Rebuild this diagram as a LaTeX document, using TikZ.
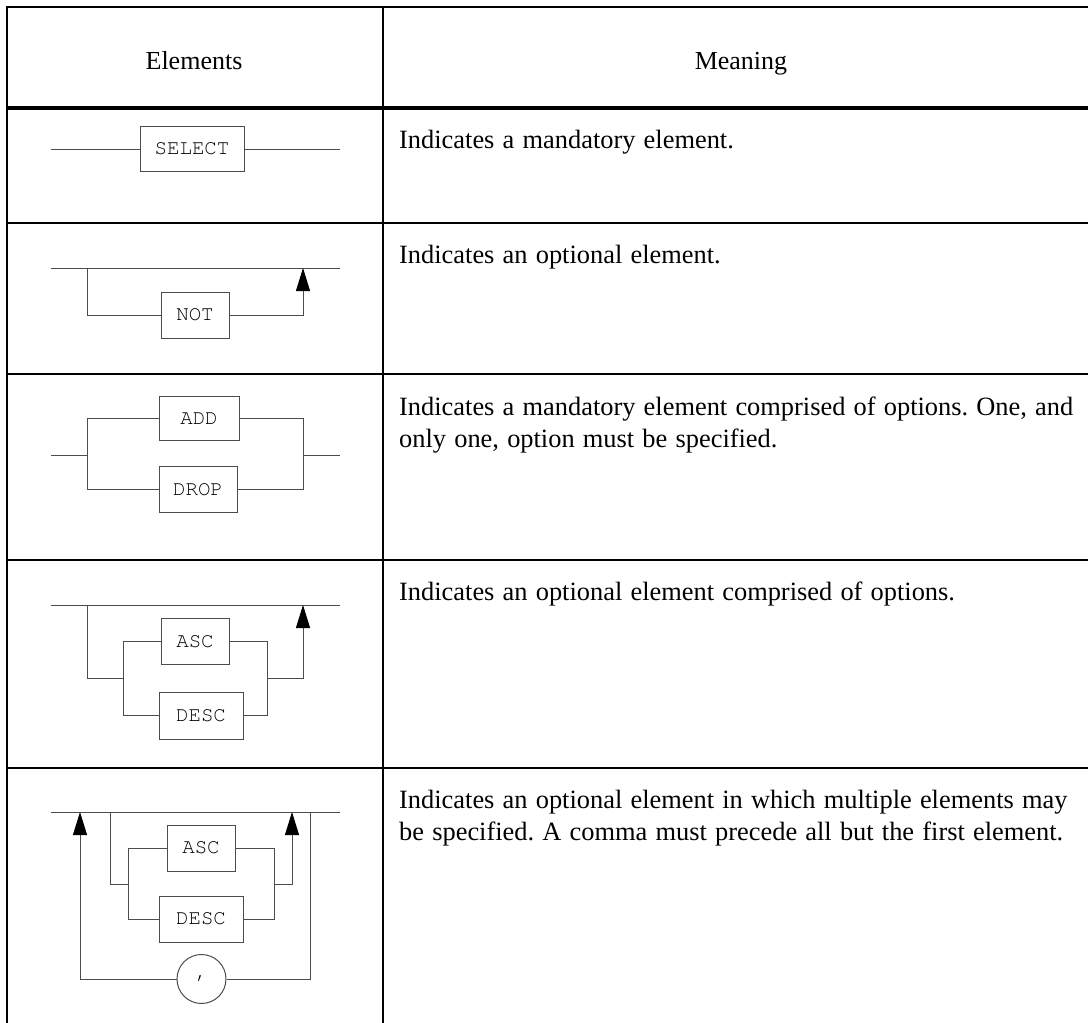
\documentclass[tikz,border=0pt]{standalone}
\usepackage{fontspec}
\setmainfont{Liberation Serif}
\setmonofont{TeX Gyre Cursor}
\usetikzlibrary{arrows.meta}

\tikzset{
  rule/.style={line width=2pt, black},
  headrule/.style={line width=3.5pt, black},
  conn/.style={line width=1pt, black!70},
  upconn/.style={conn, -{Triangle[length=23pt, width=14pt, black]}},
  kw/.style={draw=black!70, line width=1pt, fill=white, inner sep=0pt,
    font=\fontsize{20.8}{24}\ttfamily, text=black},
  opbox/.style={circle, draw=black!70, line width=1pt, fill=white,
    minimum size=49pt, inner sep=0pt, font=\fontsize{20.8}{24}\ttfamily},
  head/.style={anchor=base, inner sep=0pt, font=\fontsize{26}{32}\selectfont},
  desc/.style={anchor=base west, inner sep=0pt,
    font={\fontsize{26.4}{32}\selectfont\spaceskip=8.2pt\xspaceskip=8.2pt\relax}}
}

\begin{document}
\begin{tikzpicture}[x=1pt, y=-1pt]
\useasboundingbox (0,0) rectangle (1088,1023);
\fill[white] (0,0) rectangle (1088,1023);

% table rules
\draw[rule] (7,7) -- (1088,7);
\draw[rule] (7,6) -- (7,1023);
\draw[rule] (383,6) -- (383,1023);
\draw[headrule] (7,108) -- (1088,108);
\foreach \y in {223,374,560,767.5} \draw[rule] (7,\y) -- (1088,\y);

% header
\node[head] (hElements) at (194,69) {Elements};
\node[head] (hMeaning) at (741,69) {Meaning};

% descriptions
\node[desc] (m1) at (399,148) {Indicates a mandatory element.};
\node[desc] (m2) at (399,263) {Indicates an optional element.};
\node[desc] (m3a) at (399,415) {Indicates a mandatory element comprised of options. One, and};
\node[desc] (m3b) at (399,447) {only one, option must be specified.};
\node[desc] (m4) at (399,600.5) {Indicates an optional element comprised of options.};
\node[desc] (m5a) at (399,808) {Indicates an optional element in which multiple elements may};
\node[desc] (m5b) at (399,840) {be specified. A comma must precede all but the first element.};

% mandatory element
\coordinate (r1in) at (51,149);
\coordinate (r1out) at (340,149);
\node[kw, minimum width=104pt, minimum height=45pt] (select) at (192,149) {SELECT};
\draw[conn] (r1in) -- (select.west);
\draw[conn] (select.east) -- (r1out);

% optional element
\coordinate (r2in) at (51,268);
\coordinate (r2a) at (87,268);
\coordinate (r2b) at (303,268);
\coordinate (r2out) at (340,268);
\node[kw, minimum width=68pt, minimum height=46pt] (not) at (195,315) {NOT};
\draw[conn] (r2in) -- (r2out);
\draw[conn] (r2a) |- (not.west);
\draw[upconn] (not.east) -| (r2b);

% mandatory choice
\coordinate (r3in) at (51,455);
\coordinate (r3l) at (87,455);
\coordinate (r3r) at (303,455);
\coordinate (r3out) at (340,455);
\node[kw, minimum width=80pt, minimum height=44pt] (add) at (199,418.5) {ADD};
\node[kw, minimum width=78pt, minimum height=46pt] (drop) at (198,489.5) {DROP};
\draw[conn] (r3in) -- (r3l);
\draw[conn] (r3r) -- (r3out);
\draw[conn] (r3l) |- (add.west);
\draw[conn] (r3l) |- (drop.west);
\draw[conn] (add.east) -| (r3r);
\draw[conn] (drop.east) -| (r3r);

% optional choice
\coordinate (r4in) at (51,605);
\coordinate (r4a) at (87,605);
\coordinate (r4b) at (303,605);
\coordinate (r4out) at (340,605);
\coordinate (r4jl) at (123,678);
\coordinate (r4jr) at (267,678);
\node[kw, minimum width=68pt, minimum height=46pt] (asc4) at (195,641.5) {ASC};
\node[kw, minimum width=84pt, minimum height=47pt] (desc4) at (201,715.5) {DESC};
\draw[conn] (r4in) -- (r4out);
\draw[conn] (r4a) |- (r4jl);
\draw[conn] (r4jl) |- (asc4.west);
\draw[conn] (r4jl) |- (desc4.west);
\draw[conn] (asc4.east) -| (r4jr);
\draw[conn] (desc4.east) -| (r4jr);
\draw[upconn] (r4jr) -| (r4b);

% repeatable optional choice
\coordinate (r5in) at (51,812);
\coordinate (r5out) at (340,812);
\coordinate (r5la) at (80,812);
\coordinate (r5a) at (110,812);
\coordinate (r5b) at (292,812);
\coordinate (r5c) at (310,812);
\coordinate (r5jl) at (128,884);
\coordinate (r5jr) at (274,884);
\node[kw, minimum width=68pt, minimum height=46pt] (asc5) at (201,848) {ASC};
\node[kw, minimum width=84pt, minimum height=46pt] (desc5) at (201,919) {DESC};
\node[opbox] (comma) at (201.5,979) {,};
\draw[conn] (r5in) -- (r5out);
\draw[conn] (r5a) |- (r5jl);
\draw[conn] (r5jl) |- (asc5.west);
\draw[conn] (r5jl) |- (desc5.west);
\draw[conn] (asc5.east) -| (r5jr);
\draw[conn] (desc5.east) -| (r5jr);
\draw[upconn] (r5jr) -| (r5b);
\draw[conn] (r5c) |- (comma.east);
\draw[upconn] (comma.west) -| (r5la);
\end{tikzpicture}
\end{document}
